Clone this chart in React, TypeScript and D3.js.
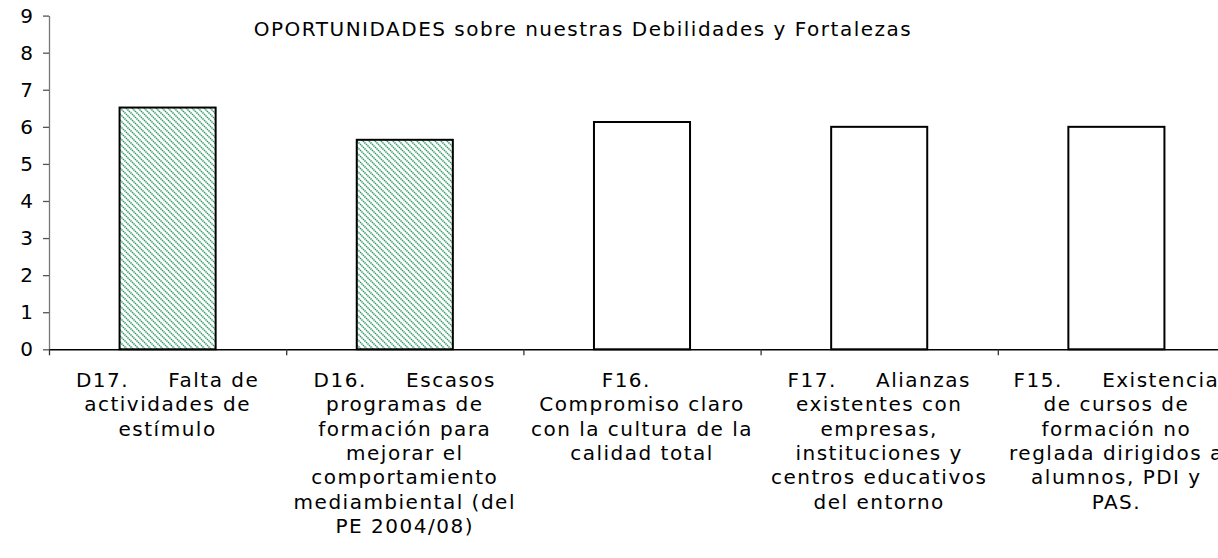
import React, { useEffect, useRef } from 'react';
import { select, scaleBand, scaleLinear, axisLeft, axisBottom, range } from 'd3';

// chart data
const categories = ["D17", "D16", "F16", "F17", "F15"];
const values = [6.52, 5.65, 6.13, 6.0, 6.0];
const patterned = [true, true, false, false, false];
const labelLines = [
    ["D17.     Falta de", "actividades de", "estímulo"],
    ["D16.     Escasos", "programas de", "formación para", "mejorar el", "comportamiento", "mediambiental (del", "PE 2004/08)"],
    ["F16.    ", "Compromiso claro", "con la cultura de la", "calidad total"],
    ["F17.     Alianzas", "existentes con", "empresas,", "instituciones y", "centros educativos", "del entorno"],
    ["F15.     Existencia", "de cursos de", "formación no", "reglada dirigidos a", "alumnos, PDI y", "PAS."],
];
const yTicks = [0, 1, 2, 3, 4, 5, 6, 7, 8, 9];
const title = "OPORTUNIDADES sobre nuestras Debilidades y Fortalezas";

const W = 1218;
const H = 558;
const FONT = "'DejaVu Sans', Verdana, sans-serif";

const App = () => {
    const ref = useRef<SVGSVGElement>(null);

    useEffect(() => {
        const svg = select(ref.current);
        svg.selectAll("*").remove();

        const left = 49;
        const step = 237.2;
        const right = left + step * categories.length;

        const x = scaleBand<string>()
            .domain(categories)
            .range([left, right])
            .paddingInner(0.595)
            .paddingOuter(0.2975);

        const y = scaleLinear()
            .domain([0, 9])
            .range([349.3, 15.6]);

        // hatch pattern for the weaknesses
        const defs = svg.append("defs");
        const pat = defs.append("pattern")
            .attr("id", "hatch")
            .attr("patternUnits", "userSpaceOnUse")
            .attr("width", 6)
            .attr("height", 6);
        pat.append("rect").attr("width", 6).attr("height", 6).attr("fill", "#fff");
        pat.append("path")
            .attr("d", "M0,0 L6,6 M-1,5 L1,7 M5,-1 L7,1")
            .attr("stroke", "#2f9a68")
            .attr("stroke-width", 1.6)
            .attr("stroke-dasharray", "1.4,0.7");

        // y axis
        const yAxis = svg.append("g")
            .attr("transform", `translate(${left},0)`)
            .call(axisLeft(y).tickValues(yTicks).tickSize(6).tickSizeOuter(0).tickPadding(10));
        yAxis.select(".domain").attr("stroke", "#777").attr("stroke-width", 1.3);
        yAxis.selectAll(".tick line").attr("stroke", "#555").attr("stroke-width", 1.3);
        yAxis.selectAll(".tick text")
            .attr("font-family", FONT)
            .attr("font-size", 20)
            .attr("fill", "#000");

        // bars
        svg.append("g")
            .selectAll("rect")
            .data(values)
            .enter()
            .append("rect")
            .attr("x", (d, i) => x(categories[i]) as number)
            .attr("y", (d) => y(d))
            .attr("width", x.bandwidth())
            .attr("height", (d) => y(0) - y(d))
            .attr("fill", (d, i) => patterned[i] ? "url(#hatch)" : "#fff")
            .attr("stroke", "#000")
            .attr("stroke-width", 2);

        // x axis with ticks on the category boundaries
        const xb = scaleLinear().domain([0, categories.length]).range([left, right]);
        const xAxis = svg.append("g")
            .attr("transform", `translate(0,${y(0)})`)
            .call(axisBottom(xb).tickValues(range(0, categories.length + 1)).tickSize(6).tickSizeOuter(0).tickFormat(() => ""));
        xAxis.select(".domain").attr("stroke", "#000").attr("stroke-width", 1.5);
        xAxis.selectAll(".tick line").attr("stroke", "#333").attr("stroke-width", 1.3);

        // category labels
        const lab = svg.append("g")
            .attr("font-family", FONT)
            .attr("font-size", 20)
            .attr("letter-spacing", 1.5)
            .attr("fill", "#000")
            .attr("text-anchor", "middle");
        labelLines.forEach((lines, i) => {
            const cx = (x(categories[i]) as number) + x.bandwidth() / 2;
            lab.selectAll(null)
                .data(lines)
                .enter()
                .append("text")
                .attr("xml:space", "preserve")
                .style("white-space", "pre")
                .attr("x", cx)
                .attr("y", (d, j) => 387 + j * 24.3)
                .text((d) => d);
        });

        // title
        svg.append("text")
            .attr("x", 583)
            .attr("y", 36)
            .attr("text-anchor", "middle")
            .attr("font-family", FONT)
            .attr("font-size", 20)
            .attr("letter-spacing", 1.5)
            .attr("fill", "#000")
            .text(title);
    }, []);

    return (
        <div style={{ position: "absolute", left: 0, top: 0 }}>
            <svg ref={ref} width={W} height={H} style={{ display: "block", background: "#fff" }}></svg>
        </div>
    );
};

export default App;
